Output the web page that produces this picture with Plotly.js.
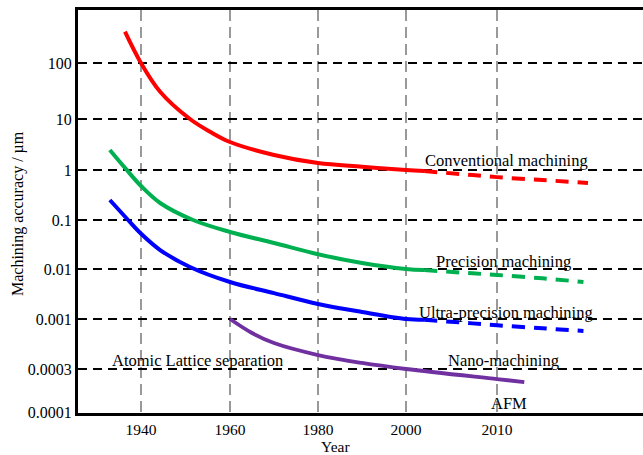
<!DOCTYPE html>
<html>
<head>
<meta charset="utf-8">
<script src="https://cdn.plot.ly/plotly-3.0.1.min.js"></script>
<style>html,body{margin:0;padding:0;background:#fff}#chart{width:643px;height:455px}</style>
</head>
<body>
<div id="chart"></div>
<script>
// ---- Data (years, machining accuracy in µm) ----
const conventionalYears = [1936.4, 1939.9, 1944.3, 1951.0, 1955.5, 1960, 1970, 1980, 1990, 2000, 2002];
const conventionalVals  = [362, 103, 30.7, 10, 5.64, 3.54, 1.97, 1.37, 1.16, 1.0, 0.95];
const conventionalFutYears = [2002, 2006, 2010, 2015, 2020];
const conventionalFutVals  = [0.95, 0.83, 0.72, 0.63, 0.55];

const precisionYears = [1933.0, 1936.6, 1940, 1944.3, 1951.7, 1960, 1970, 1980, 1990, 2000, 2002];
const precisionVals  = [2.47, 1.05, 0.479, 0.219, 0.1, 0.057, 0.034, 0.020, 0.0133, 0.010, 0.0095];
const precisionFutYears = [2002, 2006, 2010, 2015, 2019.5];
const precisionFutVals  = [0.0095, 0.0085, 0.0076, 0.0065, 0.0055];

const ultraYears = [1933.0, 1937.1, 1939.9, 1944.3, 1951.0, 1960, 1970, 1980, 1990, 2000, 2002];
const ultraVals  = [0.251, 0.1, 0.0536, 0.0244, 0.011, 0.0055, 0.0033, 0.0020, 0.00138, 0.0010, 0.00098];
const ultraFutYears = [2002, 2006, 2010, 2015, 2019.5];
const ultraFutVals  = [0.00098, 0.00092, 0.00086, 0.0008, 0.00075];

const nanoYears = [1960, 1965, 1970, 1980, 1990, 2000, 2010, 2013];
const nanoVals  = [0.001, 0.000714, 0.00056, 0.00042, 0.000347, 0.0003, 0.000232, 0.000215];

// ---- Tick labels ----
const xTickYears = [1940, 1960, 1980, 2000, 2010];
const yTickVals  = [0.0001, 0.0003, 0.001, 0.01, 0.1, 1, 10, 100];
const yTickText  = ['0.0001', '0.0003', '0.001', '0.01', '0.1', '1', '10', '100'];

// ---- Non-uniform schematic scales (axis units) ----
const xTickPos = [141, 230, 318, 406, 497];
const yTickPos = [412, 369, 319, 269, 220, 170, 119, 63];

function interp(v, xs, ys) {
  let i = 0;
  if (v <= xs[0]) i = 0;
  else if (v >= xs[xs.length - 1]) i = xs.length - 2;
  else { while (i < xs.length - 2 && v > xs[i + 1]) i++; }
  const t = (v - xs[i]) / (xs[i + 1] - xs[i]);
  return ys[i] + t * (ys[i + 1] - ys[i]);
}
const yLogs = yTickVals.map(v => Math.log10(v));
const X = yrs => yrs.map(y => interp(y, xTickYears, xTickPos));
const Y = vals => vals.map(v => interp(Math.log10(v), yLogs, yTickPos));

const RED = '#ff0000', GREEN = '#00b050', BLUE = '#0000ff', PURPLE = '#7030a0';
const DASH = '13px,9px';

const traces = [
  {x: X(conventionalYears), y: Y(conventionalVals), color: RED, dash: 'solid', w: 4},
  {x: X(conventionalFutYears), y: Y(conventionalFutVals), color: RED, dash: DASH, w: 4},
  {x: X(precisionYears), y: Y(precisionVals), color: GREEN, dash: 'solid', w: 4},
  {x: X(precisionFutYears), y: Y(precisionFutVals), color: GREEN, dash: DASH, w: 4},
  {x: X(ultraYears), y: Y(ultraVals), color: BLUE, dash: 'solid', w: 4},
  {x: X(ultraFutYears), y: Y(ultraFutVals), color: BLUE, dash: DASH, w: 4},
  {x: X(nanoYears), y: Y(nanoVals), color: PURPLE, dash: 'solid', w: 3.8}
].map(t => ({
  x: t.x, y: t.y, type: 'scatter', mode: 'lines', hoverinfo: 'skip',
  line: {color: t.color, width: t.w, dash: t.dash, shape: 'spline', smoothing: 1}
}));

const FONT = '"Liberation Serif", "Times New Roman", serif';
function ann(text, x, y, extra) {
  return Object.assign({text: text, x: x, y: y, xref: 'x', yref: 'y', showarrow: false,
    xanchor: 'center', yanchor: 'middle',
    font: {family: FONT, size: 16.5, color: '#000'}}, extra || {});
}

const layout = {
  width: 643, height: 455,
  margin: {l: 78, r: 0, t: 10, b: 42},
  paper_bgcolor: '#fff', plot_bgcolor: '#fff',
  showlegend: false,
  font: {family: FONT, color: '#000'},
  xaxis: {
    range: [78, 643], fixedrange: true,
    tickmode: 'array', tickvals: xTickPos, ticktext: xTickYears.map(String),
    ticks: '', tickfont: {family: FONT, size: 15.5, color: '#000'},
    showgrid: true, gridcolor: '#999999', gridwidth: 1.6, griddash: '11px,6px',
    zeroline: false, showline: true, linecolor: '#000', linewidth: 3, mirror: true
  },
  yaxis: {
    range: [413, 10], fixedrange: true,
    tickmode: 'array', tickvals: yTickPos, ticktext: yTickText,
    ticks: '', tickfont: {family: FONT, size: 16, color: '#000'},
    showgrid: true, gridcolor: '#000', gridwidth: 1.6, griddash: '9px,6px',
    zeroline: false, showline: true, linecolor: '#000', linewidth: 3
  },
  annotations: [
    ann('Conventional machining', 506, 160),
    ann('Precision machining', 503, 261),
    ann('Ultra-precision machining', 506, 312),
    ann('Nano-machining', 503, 360),
    ann('AFM', 509, 403),
    ann('Atomic Lattice separation', 197, 360),
    ann('Year', 0.455, -0.084, {xref: 'paper', yref: 'paper', font: {family: FONT, size: 15.5, color: '#000'}}),
    ann('Machining accuracy / µm', -0.106, 0.494, {xref: 'paper', yref: 'paper', textangle: -90, font: {family: FONT, size: 16, color: '#000'}})
  ]
};

Plotly.newPlot('chart', traces, layout, {staticPlot: true, displayModeBar: false});
</script>
</body>
</html>
